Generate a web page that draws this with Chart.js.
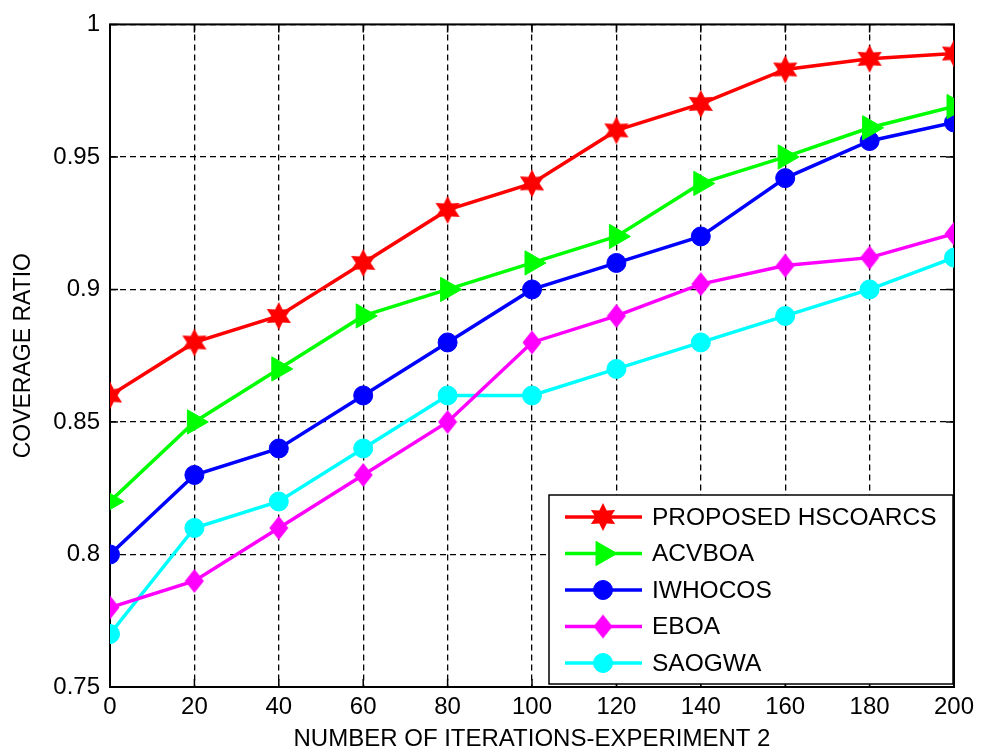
<!DOCTYPE html>
<html>
<head>
<meta charset="utf-8">
<script src="https://cdn.jsdelivr.net/npm/chart.js@4/dist/chart.umd.min.js"></script>
<style>
  html, body { margin: 0; padding: 0; background: #fff; }
  #wrap { width: 987px; height: 754px; }
</style>
</head>
<body>
<div id="wrap"><canvas id="chart" width="987" height="754"></canvas></div>
<script>
// DATA
const iterations = [0, 20, 40, 60, 80, 100, 120, 140, 160, 180, 200];
const proposed = [0.86, 0.88, 0.89, 0.91, 0.93, 0.94, 0.96, 0.97, 0.983, 0.987, 0.989];
const acvboa   = [0.82, 0.85, 0.87, 0.89, 0.90, 0.91, 0.92, 0.94, 0.95, 0.961, 0.969];
const iwhocos  = [0.80, 0.83, 0.84, 0.86, 0.88, 0.90, 0.91, 0.92, 0.942, 0.956, 0.963];
const eboa     = [0.78, 0.79, 0.81, 0.83, 0.85, 0.88, 0.89, 0.902, 0.909, 0.912, 0.921];
const saogwa   = [0.77, 0.81, 0.82, 0.84, 0.86, 0.86, 0.87, 0.88, 0.89, 0.90, 0.912];
const seriesNames = ['PROPOSED HSCOARCS', 'ACVBOA', 'IWHOCOS', 'EBOA', 'SAOGWA'];
const xTicks = [0, 20, 40, 60, 80, 100, 120, 140, 160, 180, 200];
const yTicks = [0.75, 0.8, 0.85, 0.9, 0.95, 1];

const FONT = '"Liberation Sans", Arial, Helvetica, sans-serif';

// MARKERS
function starImg(color) {
    let c = document.createElement('canvas');
    c.width = 30; c.height = 30;
    let g = c.getContext('2d');
    let R = 14, r = 7.5;
    g.beginPath();
    for (let i = 0; i < 12; i++) {
        let a = -Math.PI / 2 + i * Math.PI / 6;
        let rad = i % 2 === 0 ? R : r;
        let px = 15 + Math.cos(a) * rad, py = 15 + Math.sin(a) * rad;
        i === 0 ? g.moveTo(px, py) : g.lineTo(px, py);
    }
    g.closePath();
    g.fillStyle = color;
    g.fill();
    return c;
}

function diamondImg(color) {
    let c = document.createElement('canvas');
    c.width = 20; c.height = 26;
    let g = c.getContext('2d');
    g.beginPath();
    g.moveTo(10, 1); g.lineTo(19.5, 13); g.lineTo(10, 25); g.lineTo(0.5, 13);
    g.closePath();
    g.fillStyle = color;
    g.fill();
    return c;
}

const star = starImg('#ff0000');
const diamond = diamondImg('#ff00ff');

function pts(arr) {
    return iterations.map((x, i) => ({ x: x, y: arr[i] }));
}

function series(label, arr, color, style, radius, rotation) {
    return {
        label: label,
        data: pts(arr),
        borderColor: color,
        backgroundColor: color,
        borderWidth: 3.5,
        pointStyle: style,
        pointRadius: radius,
        pointHoverRadius: radius,
        pointRotation: rotation || 0,
        pointBorderWidth: 1,
        pointBorderColor: color,
        pointBackgroundColor: color,
        tension: 0
    };
}

// FRAME + INWARD TICKS
const framePlugin = {
    id: 'frame',
    beforeDatasetsDraw(chart) {
        let ctx = chart.ctx, a = chart.chartArea;
        let xs = chart.scales.x, ys = chart.scales.y;
        ctx.save();
        ctx.setLineDash([]);
        ctx.strokeStyle = '#000';
        ctx.lineWidth = 1.5;
        xTicks.forEach(v => {
            let px = xs.getPixelForValue(v);
            ctx.beginPath();
            ctx.moveTo(px, a.bottom); ctx.lineTo(px, a.bottom - 8);
            ctx.moveTo(px, a.top); ctx.lineTo(px, a.top + 8);
            ctx.stroke();
        });
        yTicks.forEach(v => {
            let py = ys.getPixelForValue(v);
            ctx.beginPath();
            ctx.moveTo(a.left, py); ctx.lineTo(a.left + 8, py);
            ctx.moveTo(a.right, py); ctx.lineTo(a.right - 8, py);
            ctx.stroke();
        });
        ctx.lineWidth = 2;
        ctx.strokeRect(a.left, a.top, a.right - a.left, a.bottom - a.top);
        ctx.restore();
    }
};

// LEGEND (inside, bottom right)
const legendPlugin = {
    id: 'boxLegend',
    afterDraw(chart) {
        let ctx = chart.ctx, a = chart.chartArea;
        let bx = 549, by = 495, bw = a.right - 1 - bx, bh = a.bottom - 3 - by;
        ctx.save();
        ctx.fillStyle = '#fff';
        ctx.fillRect(bx, by, bw, bh);
        ctx.setLineDash([]);
        ctx.strokeStyle = '#000';
        ctx.lineWidth = 1.5;
        ctx.strokeRect(bx, by, bw, bh);
        ctx.font = '24.5px ' + FONT;
        ctx.textBaseline = 'middle';
        chart.data.datasets.forEach((ds, i) => {
            let cy = by + 22 + i * 36.5;
            ctx.strokeStyle = ds.borderColor;
            ctx.lineWidth = 3.5;
            ctx.beginPath();
            ctx.moveTo(565, cy); ctx.lineTo(642, cy);
            ctx.stroke();
            ctx.fillStyle = ds.pointBackgroundColor;
            ctx.strokeStyle = ds.pointBorderColor;
            ctx.lineWidth = 1;
            Chart.helpers.drawPoint(ctx, {
                pointStyle: ds.pointStyle,
                radius: ds.pointRadius,
                rotation: ds.pointRotation,
                borderWidth: 1
            }, 603, cy);
            ctx.fillStyle = '#000';
            ctx.fillText(ds.label, 652, cy + 1);
        });
        ctx.restore();
    }
};

const tickFont = { family: FONT, size: 24 };

new Chart(document.getElementById('chart'), {
    type: 'line',
    data: {
        datasets: [
            series(seriesNames[0], proposed, '#ff0000', star, 14),
            series(seriesNames[1], acvboa, '#00ff00', 'triangle', 14, 90),
            series(seriesNames[2], iwhocos, '#0000ff', 'circle', 9.5),
            series(seriesNames[3], eboa, '#ff00ff', diamond, 12),
            series(seriesNames[4], saogwa, '#00ffff', 'circle', 9.5)
        ]
    },
    options: {
        responsive: false,
        animation: false,
        events: [],
        layout: { padding: { top: 22, right: 33, left: 0, bottom: 0 } },
        plugins: {
            legend: { display: false },
            tooltip: { enabled: false }
        },
        scales: {
            x: {
                type: 'linear',
                min: 0,
                max: 200,
                afterBuildTicks: s => { s.ticks = xTicks.map(v => ({ value: v })); },
                afterFit: s => { s.height = 67; },
                grid: { color: '#000', lineWidth: 1.3, drawTicks: false },
                border: { display: false, dash: [6, 4] },
                ticks: { color: '#000', font: tickFont, padding: 6, maxRotation: 0 },
                title: {
                    display: true,
                    text: 'NUMBER OF ITERATIONS-EXPERIMENT 2',
                    color: '#000',
                    font: { family: FONT, size: 24 },
                    padding: { top: 0, bottom: 0 }
                }
            },
            y: {
                type: 'linear',
                min: 0.75,
                max: 1,
                afterBuildTicks: s => { s.ticks = yTicks.map(v => ({ value: v })); },
                afterFit: s => { s.width = 110; },
                grid: { color: '#000', lineWidth: 1.3, drawTicks: false },
                border: { display: false, dash: [6, 4] },
                ticks: {
                    color: '#000',
                    font: tickFont,
                    padding: 10,
                    callback: v => String(+v.toFixed(2))
                },
                title: {
                    display: true,
                    text: 'COVERAGE RATIO',
                    color: '#000',
                    font: { family: FONT, size: 23 },
                    padding: { top: 10, bottom: 0 }
                }
            }
        }
    },
    plugins: [framePlugin, legendPlugin]
});
</script>
</body>
</html>
